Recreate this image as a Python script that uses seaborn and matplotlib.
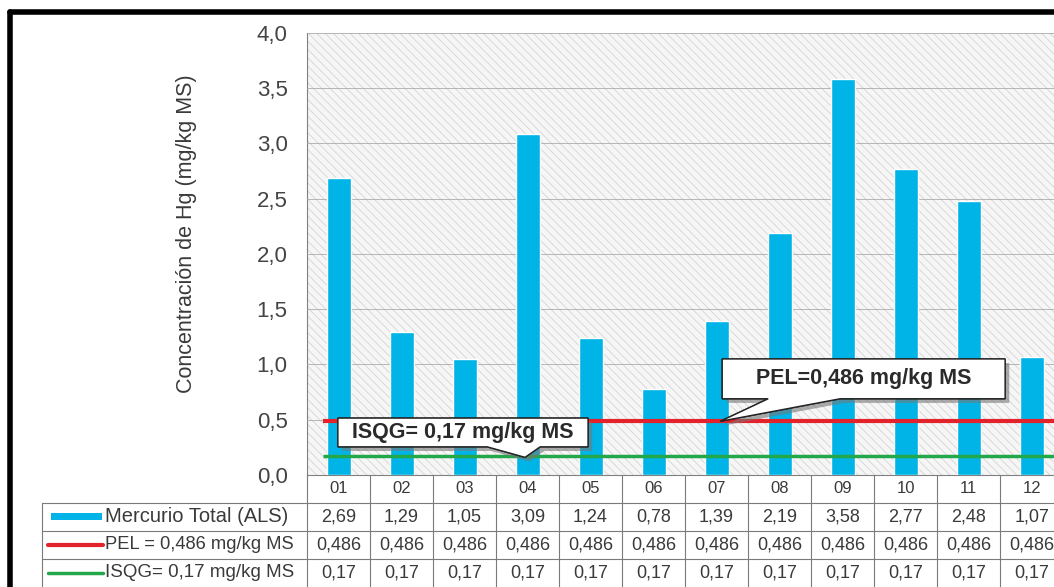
import matplotlib
matplotlib.use('Agg')
import matplotlib.pyplot as plt
import matplotlib.transforms as mtransforms
import matplotlib.patheffects as pe
from matplotlib.lines import Line2D
from matplotlib.patches import Rectangle, Polygon
from matplotlib.ticker import FuncFormatter, MultipleLocator
import seaborn as sns
import pandas as pd

# data
muestras = ['01', '02', '03', '04', '05', '06', '07', '08', '09', '10', '11', '12']
mercurio = [2.69, 1.29, 1.05, 3.09, 1.24, 0.78, 1.39, 2.19, 3.58, 2.77, 2.48, 1.07]
pel = [0.486] * 12
isqg = [0.17] * 12

serie_labels = ['Mercurio Total (ALS)', 'PEL = 0,486 mg/kg MS', 'ISQG= 0,17 mg/kg MS']
y_label = 'Concentración de Hg (mg/kg MS)'

BLUE = '#00B4E8'
RED = '#E3232B'
GREEN = '#22A84A'
GRID = '#ababab'
TXT = '#3a3a3a'


def coma(v, nd):
    return f"{v:.{nd}f}".replace('.', ',')


df = pd.DataFrame({'muestra': muestras, 'hg': mercurio})

sns.set_style('white')
plt.rcParams['font.family'] = ['Liberation Sans', 'DejaVu Sans']
plt.rcParams['hatch.linewidth'] = 0.6

fig = plt.figure(figsize=(10.54, 5.87), dpi=100)
ax = fig.add_axes([0.2913, 0.1908, 0.7173, 0.7530])

# hatched grey background of the plot area
ax.add_patch(Rectangle((0, 0), 1, 1, transform=ax.transAxes, facecolor='#f6f6f6',
                       edgecolor='#d4d4d4', hatch='\\\\\\\\', lw=0, zorder=0))

sns.barplot(data=df, x='muestra', y='hg', order=muestras, color=BLUE, width=0.38,
            saturation=1, ax=ax, zorder=3)

ax.hlines(pel[0], -0.25, 11.5, color=RED, lw=3, zorder=4)
ax.hlines(isqg[0], -0.25, 11.5, color=GREEN, lw=2.5, zorder=4)

ax.set_xlim(-0.5, len(muestras) - 0.5)
ax.set_ylim(0, 4.0)
ax.yaxis.set_major_locator(MultipleLocator(0.5))
ax.yaxis.set_major_formatter(FuncFormatter(lambda v, p: coma(v, 1)))
ax.tick_params(axis='y', labelsize=16, labelcolor='#444444', length=0, pad=14)
ax.set_xticks([])
ax.set_xlabel('')
ax.set_ylabel(y_label, fontsize=15.5, color=TXT)
ax.yaxis.set_label_coords(-0.146, 0.545)
ax.yaxis.grid(True, color=GRID, lw=0.6)
ax.set_axisbelow(False)
for s in ['top', 'right']:
    ax.spines[s].set_visible(False)
for s in ['left', 'bottom']:
    ax.spines[s].set_color('#808080')
    ax.spines[s].set_linewidth(0.8)
for ln in ax.get_ygridlines():
    ln.set_zorder(1)


def callout(text, x0, x1, y0, y1, b0, b1, tip):
    """Box with a pointer from its lower edge to the tip point, plus a drop shadow."""
    verts = [(x0, y1), (x1, y1), (x1, y0), (b1, y0), tip, (b0, y0), (x0, y0)]
    poly = Polygon(verts, closed=True, facecolor='white', edgecolor='#222222', lw=1, zorder=6,
                   path_effects=[pe.withSimplePatchShadow(offset=(3, -3), shadow_rgbFace='#777777',
                                                          alpha=0.6), pe.Normal()])
    ax.add_patch(poly)
    ax.text((x0 + x1) / 2, (y0 + y1) / 2, text, ha='center', va='center', fontsize=15.5,
            fontweight='bold', color='#2a2a2a', zorder=7)


callout('PEL=0,486 mg/kg MS', 6.09, 10.58, 0.69, 1.05, 6.82, 7.96, (6.06, pel[0]))
callout('ISQG= 0,17 mg/kg MS', -0.01, 3.96, 0.255, 0.515, 2.36, 3.2, (2.96, isqg[0] - 0.01))

# data table under the axis
tr = mtransforms.blended_transform_factory(ax.transData, fig.transFigure)
tcol = '#7a7a7a'
row_bottoms = [0.1431, 0.0954, 0.0477, 0.0]
row_centers = [0.1670, 0.1193, 0.0716, 0.0239]
left_col = 0.0398

n = len(muestras)
for i in range(n + 1):
    fig.add_artist(Line2D([i - 0.5, i - 0.5], [0, 0.1908], transform=tr, color=tcol, lw=0.8))
for yb in row_bottoms[:3]:
    fig.add_artist(Line2D([left_col, 1.0], [yb, yb], transform=fig.transFigure, color=tcol, lw=0.8))
fig.add_artist(Line2D([left_col, left_col], [0, row_bottoms[0]], transform=fig.transFigure,
                      color=tcol, lw=0.8))

rows = [
    [coma(v, 2) for v in mercurio],
    [coma(v, 3) for v in pel],
    [coma(v, 2) for v in isqg],
]
for i, m in enumerate(muestras):
    fig.text(i, row_centers[0], m, transform=tr, ha='center', va='center', fontsize=12,
             color=TXT)
    for r, vals in enumerate(rows):
        fig.text(i, row_centers[r + 1], vals[i], transform=tr, ha='center', va='center',
                 fontsize=13, color=TXT)

# legend keys in the first column
fig.add_artist(Rectangle((0.048, row_centers[1] - 0.006), 0.049, 0.012, transform=fig.transFigure,
                         facecolor=BLUE, lw=0))
fig.add_artist(Line2D([0.046, 0.098], [row_centers[2], row_centers[2]], transform=fig.transFigure,
                      color=RED, lw=3))
fig.add_artist(Line2D([0.046, 0.098], [row_centers[3], row_centers[3]], transform=fig.transFigure,
                      color=GREEN, lw=2.5))
for r, (lab, fs) in enumerate(zip(serie_labels, [14.5, 13.2, 13.5])):
    fig.text(0.1, row_centers[r + 1], lab, ha='left', va='center', fontsize=fs, color=TXT)

# thick frame around the chart (top and left edges visible)
fig.add_artist(Line2D([0.0095, 1.0], [0.9796, 0.9796], transform=fig.transFigure, color='black', lw=4))
fig.add_artist(Line2D([0.0095, 0.0095], [0.0, 0.9796], transform=fig.transFigure, color='black', lw=4))

fig.savefig('out.png', dpi=100)
plt.close(fig)
